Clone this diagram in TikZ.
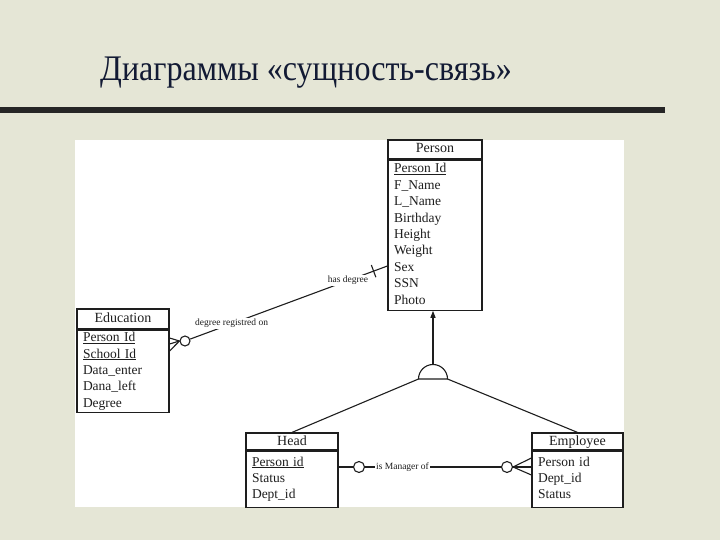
\documentclass[tikz,border=0pt]{standalone}
\usepackage{fontspec}
\setmainfont{Liberation Serif}
\usetikzlibrary{positioning, arrows.meta, calc}

\definecolor{slidebg}{RGB}{229,230,214}
\definecolor{titleblue}{RGB}{18,26,52}
\definecolor{rulegray}{RGB}{38,38,38}
\definecolor{inkgray}{RGB}{30,30,30}

\tikzset{
  enttitle/.style={draw=inkgray, line width=1.2pt, fill=white, inner sep=0pt,
    text height=10pt, text depth=3pt, font=\fontsize{14}{16}\selectfont, text=inkgray},
  entbody/.style={draw=inkgray, line width=1.2pt, fill=white, inner xsep=6pt,
    inner ysep=0pt, align=left, font=\fontsize{13.5}{16.4}\selectfont, text=inkgray,
    execute at begin node=\strut, execute at end node=\strut},
  link/.style={draw=inkgray, line width=1.1pt},
  optcircle/.style={circle, draw=inkgray, line width=1.1pt, fill=white,
    minimum size=11pt, inner sep=0pt},
  lbl/.style={fill=white, inner sep=1pt, font=\fontsize{9.5}{11}\selectfont, text=inkgray},
  onebar/.style={draw=inkgray, line width=1.1pt, inner sep=0pt,
    minimum width=0pt, minimum height=13pt},
}

\begin{document}
\begin{tikzpicture}[x=1pt, y=-1pt]
  % slide
  \useasboundingbox (0,0) rectangle (720,540);
  \fill[slidebg] (0,0) rectangle (720,540);
  \node[anchor=base west, inner sep=0pt, xscale=0.89, text=titleblue,
    font=\fontsize{36}{40}\selectfont] (title) at (100,81) {Диаграммы «сущность-связь»};
  \fill[rulegray] (0,107.5) rectangle (665,113.5);
  \fill[white] (75,140) rectangle (624,507);

  % entities
  \node[enttitle, minimum width=94pt, minimum height=19pt] (person) at (435,149.5) {Person};
  \node[entbody, text width=82pt, minimum height=150pt, below=0pt of person] (personattr)
    {\underline{Person Id}\\F\_Name\\L\_Name\\Birthday\\Height\\Weight\\Sex\\SSN\\Photo};

  \node[enttitle, minimum width=92pt, minimum height=20pt] (edu) at (123,319) {Education};
  \node[entbody, text width=80pt, minimum height=82pt, below=0pt of edu] (eduattr)
    {\underline{Person Id}\\\underline{School Id}\\Data\_enter\\Dana\_left\\Degree};

  \node[enttitle, minimum width=92pt, minimum height=17pt] (head) at (292,441.5) {Head};
  \node[entbody, text width=80pt, minimum height=56pt, below=0pt of head] (headattr)
    {\underline{Person id}\\Status\\Dept\_id};

  \node[enttitle, minimum width=91pt, minimum height=17pt] (emp) at (577.5,441.5) {Employee};
  \node[entbody, text width=79pt, minimum height=56pt, below=0pt of emp] (empattr)
    {Person id\\Dept\_id\\Status};

  % subtype symbol
  \coordinate (isa) at (433,379);
  \coordinate (isaleft) at (418.5,379);
  \coordinate (isaright) at (447.5,379);
  \coordinate (isatop) at (433,364.5);
  \draw[link, fill=white] (isaleft) arc[start angle=180, end angle=0, radius=14.5pt] -- cycle;
  \draw[link, -{Triangle[length=7pt, width=5pt]}] (isatop) -- (isatop |- personattr.south);
  \draw[link] (isaleft) -- (head.north);
  \draw[link] (isaright) -- (emp.north);

  % is Manager of
  \node[optcircle] (mgrh) at (359,467) {};
  \node[lbl] (mgr) at (402.5,467) {is Manager of};
  \node[optcircle] (mgre) at (507,467) {};
  \draw[link] (headattr.east |- mgrh) -- (mgrh) -- (mgr) -- (mgre);
  \draw[link] (mgre.east) -- ($(empattr.west |- mgre)+(0,-9)$);
  \draw[link] (mgre.east) -- (empattr.west |- mgre);
  \draw[link] (mgre.east) -- ($(empattr.west |- mgre)+(0,8)$);

  % has degree / degree registred on
  \coordinate (sexrow) at (0,266);
  \node[optcircle, minimum size=10pt] (educ) at (185,341) {};
  \draw[link] (educ.west) -- ($(eduattr.east |- educ)+(0,-3)$);
  \draw[link] (educ.west) -- ($(eduattr.east |- educ)+(0,3)$);
  \draw[link] (educ.west) -- ($(eduattr.east |- educ)+(0,10)$);
  \draw[link] (educ) -- node[lbl, pos=.21] {degree registred on}
    node[onebar, sloped, pos=.93] {}
    node[lbl, pos=.8] {has degree} (personattr.west |- sexrow);
\end{tikzpicture}
\end{document}
